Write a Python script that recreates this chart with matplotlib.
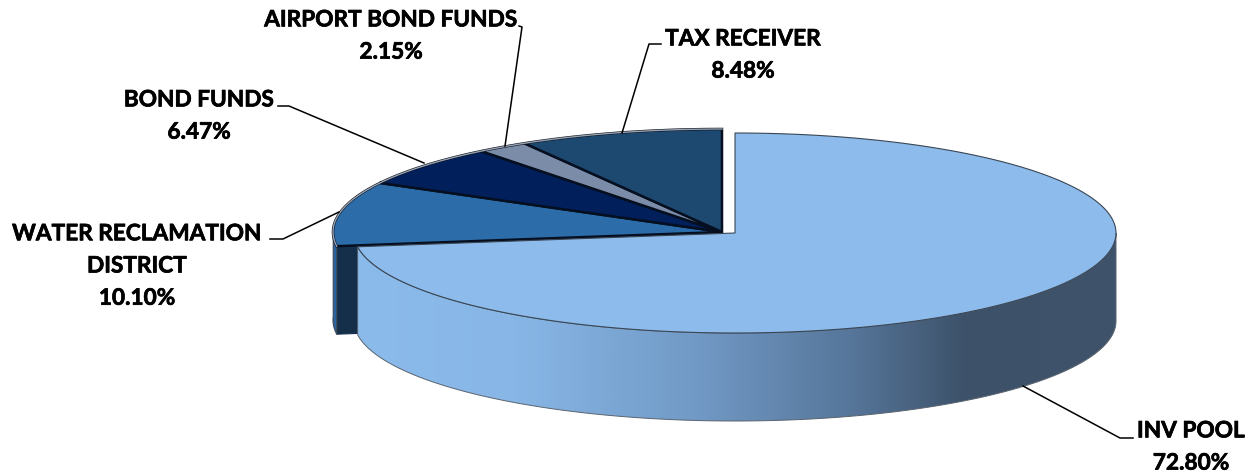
import numpy as np
import matplotlib
matplotlib.use('Agg')
import matplotlib.pyplot as plt
import matplotlib.patheffects as pe
from matplotlib.colors import LinearSegmentedColormap
from matplotlib.patches import Polygon

# chart data
labels = ['INV POOL', 'WATER RECLAMATION\nDISTRICT', 'BOND FUNDS', 'AIRPORT BOND FUNDS', 'TAX RECEIVER']
values = [72.80, 10.10, 6.47, 2.15, 8.48]
colors = ['#8CBBEC', '#2B6CA9', '#011F5B', '#7A8CA8', '#1D4870']

plt.rcParams['font.family'] = ['Lato', 'DejaVu Sans']

fig = plt.figure(figsize=(12.49, 4.75), dpi=100)
ax = fig.add_axes([0, 0, 1, 1])

RX, RY = 381, 100
RX_BACK, RY_BACK = 389, 103
DEPTH = 88
MAIN_C = (735, 233)
BACK_C = (722, 232)


def rim(center, rx, ry, a0, a1, n=200):
    # angles in degrees, clockwise from twelve o'clock
    a = np.radians(np.linspace(a0, a1, n))
    return np.column_stack([center[0] + rx * np.sin(a), center[1] - ry * np.cos(a)])


edges = np.concatenate([[0], np.cumsum(values)]) * 3.6

# walls of the slices at the back
a0 = edges[1]
p = rim(BACK_C, RX_BACK, RY_BACK, a0, a0, 1)[0]
wall = [p, BACK_C, (BACK_C[0], BACK_C[1] + DEPTH), (p[0], p[1] + DEPTH)]
ax.add_patch(Polygon(wall, closed=True, fc='#152F4B', ec='#152F4B', lw=0.8, zorder=1))
r = rim(BACK_C, RX_BACK, RY_BACK, a0, 272)
outer = np.vstack([r, r[::-1] + [0, DEPTH]])
ax.add_patch(Polygon(outer, closed=True, fc='#2A64A0', ec='#3A4A5A', lw=0.8, zorder=1))

# back slices
for i in range(1, len(values)):
    r = rim(BACK_C, RX_BACK, RY_BACK, edges[i], edges[i + 1])
    ax.add_patch(Polygon(np.vstack([[BACK_C], r]), closed=True, fc=colors[i], ec='#050F20', lw=1.8,
                         joinstyle='miter', zorder=2))

# outline of the back rim, on top of the black slice edges
r = rim(BACK_C, RX_BACK, RY_BACK, edges[1], 360)
ax.plot(r[:, 0], r[:, 1], color='#9AA3AE', lw=1.0, zorder=3)

# front wall of the big slice with its shading
r = rim(MAIN_C, RX, RY, 90, edges[1])
front = np.vstack([r, r[::-1] + [0, DEPTH]])
stops = [(0.0, '#8BBBEB'), (0.2, '#88B7E7'), (0.45, '#7199C5'), (0.65, '#56769A'),
         (0.8, '#3D526A'), (1.0, '#3F5369')]
cmap = LinearSegmentedColormap.from_list('wall', stops)
grad = np.linspace(0, 1, 512).reshape(1, -1)
x0, x1 = front[:, 0].min(), front[:, 0].max()
im = ax.imshow(grad, cmap=cmap, aspect='auto', extent=[x0, x1, 475, 0], zorder=4)
patch = Polygon(front, closed=True, fc='none', ec='#5A6470', lw=0.7, zorder=5)
ax.add_patch(patch)
im.set_clip_path(patch)

# big slice
r = rim(MAIN_C, RX, RY, edges[0], edges[1])
ax.add_patch(Polygon(np.vstack([[MAIN_C], r]), closed=True, fc=colors[0], ec='#3A4654', lw=0.8,
                     joinstyle='miter', zorder=6))

# leader lines
leaders = [
    [(1023, 386), (1120, 438), (1133, 438)],
    [(339, 212), (283, 239), (270, 239)],
    [(424, 163), (289, 106), (278, 106)],
    [(505, 146), (522, 27), (519, 26)],
    [(622, 133), (649, 44), (661, 44)],
]
for line in leaders:
    xs, ys = zip(*line)
    ax.plot(xs, ys, color='black', lw=1.1, zorder=7)

# labels
label_pos = [(1191, 447), (137, 266), (199, 116), (391, 36), (743, 55)]
for name, val, (x, y) in zip(labels, values, label_pos):
    ax.text(x, y, f'{name}\n{val:.2f}%', ha='center', va='center', fontsize=16.3,
            fontweight='bold', color='black', linespacing=1.66, zorder=8,
            path_effects=[pe.withStroke(linewidth=0.5, foreground='black')])

ax.set_xlim(0, 1249)
ax.set_ylim(475, 0)
ax.axis('off')
fig.savefig('out.png', dpi=100)
